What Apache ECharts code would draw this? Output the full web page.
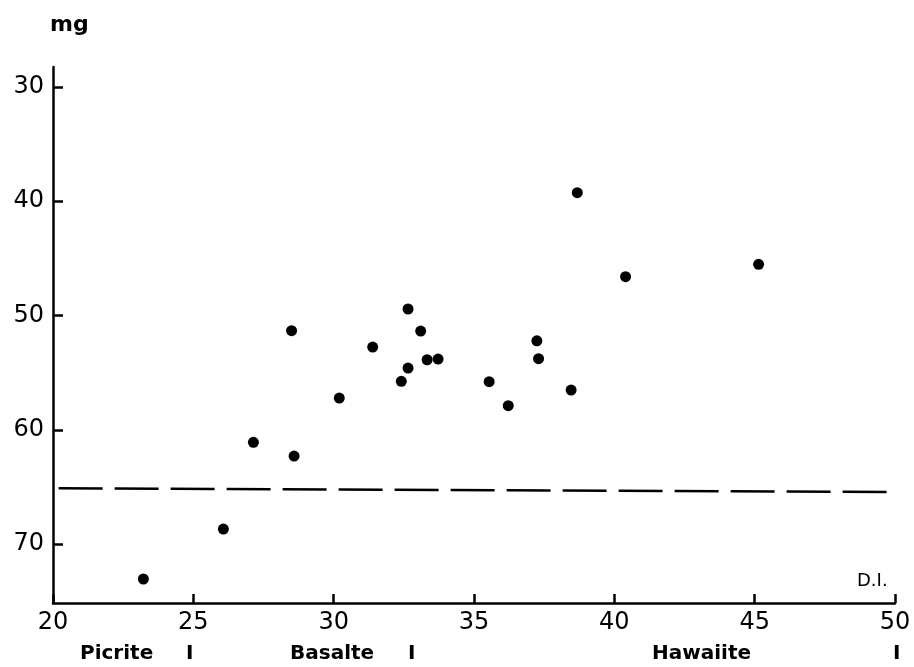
<!DOCTYPE html>
<html>
<head>
<meta charset="utf-8">
<script src="https://cdn.jsdelivr.net/npm/echarts@6/dist/echarts.min.js"></script>
<style>html,body{margin:0;padding:0;background:#fff}#c{width:914px;height:667px}</style>
</head>
<body>
<div id="c"></div>
<script>
var diValues = [23.22, 26.07, 27.14, 28.50, 28.59, 30.20, 31.39, 32.41, 32.65, 32.65, 33.10, 33.33, 33.72, 35.54, 36.22, 37.24, 37.30, 38.46, 38.68, 40.40, 45.14];
var mgValues = [73.06, 68.69, 61.10, 51.33, 62.30, 57.22, 52.76, 55.76, 49.43, 54.60, 51.36, 53.87, 53.81, 55.79, 57.89, 52.21, 53.78, 56.52, 39.25, 46.60, 45.52];
var yTickValues = [30, 40, 50, 60, 70];
var dividerLine = [[20.2, 65.12], [49.9, 65.45]];
var rockLabels = ['Picrite', 'Basalte', 'Hawaiite'];

var points = diValues.map(function (x, i) { return [x, mgValues[i]]; });
var FONT = '"DejaVu Sans", sans-serif';

var chart = echarts.init(document.getElementById('c'), null, {renderer: 'canvas'});
chart.setOption({
  backgroundColor: '#ffffff',
  animation: false,
  grid: {left: 53, right: 19, top: 67, bottom: 64, containLabel: false},
  xAxis: {
    type: 'value', min: 20, max: 50, interval: 5,
    axisLine: {show: true, lineStyle: {color: '#000', width: 2.5}},
    axisTick: {show: true, inside: true, length: 9, lineStyle: {color: '#000', width: 2.5}},
    axisLabel: {color: '#000', fontSize: 24, fontFamily: FONT, margin: 8},
    splitLine: {show: false}
  },
  yAxis: {
    type: 'value', inverse: true, min: 28.25, max: 75.16,
    axisLine: {show: true, onZero: false, lineStyle: {color: '#000', width: 2.5}},
    axisTick: {show: true, inside: true, length: 10, customValues: yTickValues, lineStyle: {color: '#000', width: 2.5}},
    axisLabel: {color: '#000', fontSize: 24, fontFamily: FONT, margin: 9, customValues: yTickValues},
    splitLine: {show: false}
  },
  series: [
    {
      type: 'scatter',
      data: points,
      symbol: 'circle',
      symbolSize: 11,
      itemStyle: {color: '#000', opacity: 1},
      markLine: {
        silent: true,
        symbol: ['none', 'none'],
        label: {show: false},
        lineStyle: {color: '#000', width: 2.5, type: [44, 12], opacity: 1},
        data: [[{coord: dividerLine[0]}, {coord: dividerLine[1]}]]
      }
    }
  ],
  graphic: [
    {type: 'text', left: 50, top: 14, style: {text: 'mg', font: 'bold 22px ' + FONT, fill: '#000'}},
    {type: 'text', left: 857, top: 572, style: {text: 'D.I.', font: '18px ' + FONT, fill: '#000'}},
    {type: 'text', left: 80, top: 644, style: {text: rockLabels[0], font: 'bold 20px ' + FONT, fill: '#000'}},
    {type: 'text', left: 186, top: 644, style: {text: 'I', font: 'bold 20px ' + FONT, fill: '#000'}},
    {type: 'text', left: 290, top: 644, style: {text: rockLabels[1], font: 'bold 20px ' + FONT, fill: '#000'}},
    {type: 'text', left: 408, top: 644, style: {text: 'I', font: 'bold 20px ' + FONT, fill: '#000'}},
    {type: 'text', left: 652, top: 644, style: {text: rockLabels[2], font: 'bold 20px ' + FONT, fill: '#000'}},
    {type: 'text', left: 893, top: 644, style: {text: 'I', font: 'bold 20px ' + FONT, fill: '#000'}}
  ]
});
</script>
</body>
</html>
